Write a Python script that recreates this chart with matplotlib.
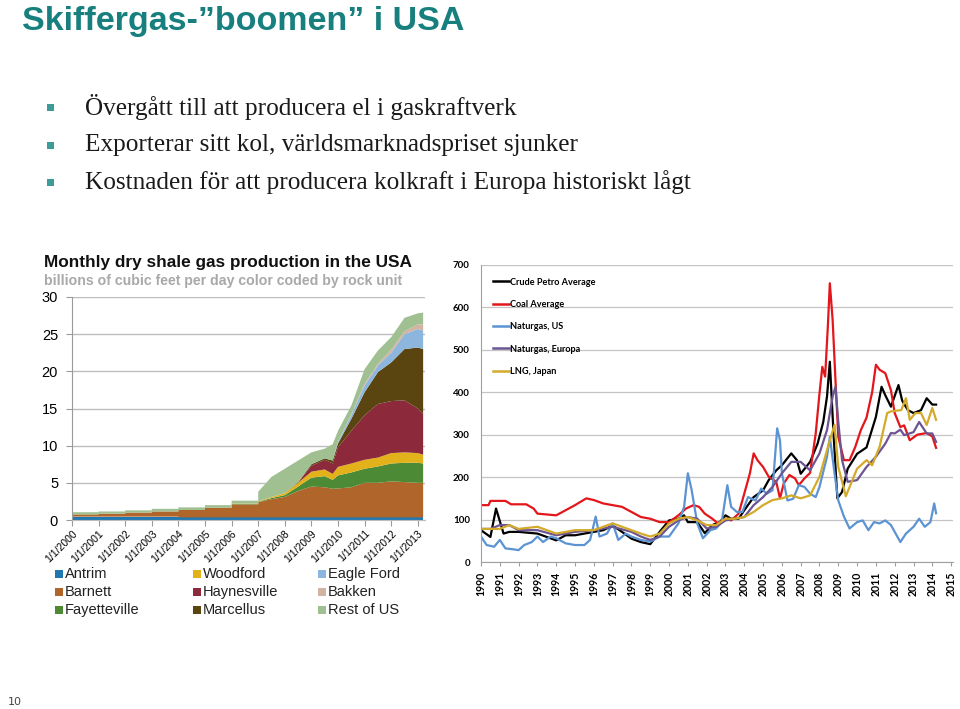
import numpy as np
import matplotlib
matplotlib.use('Agg')
import matplotlib.pyplot as plt
from matplotlib.patches import Rectangle
from matplotlib.lines import Line2D

# ---- left chart: monthly dry shale gas production (bcf/day) ----
# first 7 points are annual steps (2000-2006), then readings from 2007 on
prod_t = [2000, 2001, 2002, 2003, 2004, 2005, 2006,
          2007.0, 2007.5, 2008.0, 2008.5, 2009.0, 2009.5, 2009.8, 2010.0, 2010.5,
          2011.0, 2011.5, 2012.0, 2012.5, 2013.0, 2013.2]
n_annual = 7
antrim = [0.45, 0.45, 0.45, 0.45, 0.35, 0.35, 0.35,
          0.35, 0.35, 0.35, 0.35, 0.35, 0.35, 0.35, 0.35, 0.35, 0.35, 0.35, 0.35, 0.35, 0.35, 0.35]
barnett = [0.30, 0.40, 0.55, 0.70, 1.00, 1.30, 1.75,
           2.05, 2.45, 2.75, 3.55, 4.15, 4.05, 3.85, 3.90, 4.05, 4.65, 4.65, 4.85, 4.75, 4.65, 4.65]
fayetteville = [0, 0, 0, 0, 0, 0, 0.05,
                0.05, 0.15, 0.25, 0.60, 1.20, 1.50, 1.20, 1.75, 2.00, 1.90, 2.20, 2.40, 2.60, 2.70, 2.60]
woodford = [0, 0, 0, 0, 0, 0, 0.05,
            0.05, 0.15, 0.25, 0.50, 0.80, 0.90, 0.80, 1.15, 1.20, 1.20, 1.20, 1.40, 1.40, 1.30, 1.20]
haynesville = [0, 0, 0, 0, 0, 0, 0,
               0, 0, 0, 0.05, 0.80, 1.30, 1.40, 2.65, 4.40, 6.00, 7.20, 7.00, 7.00, 6.00, 5.50]
marcellus = [0, 0, 0, 0, 0, 0, 0,
             0, 0, 0, 0.05, 0.20, 0.20, 0.40, 0.50, 1.60, 3.10, 4.30, 5.20, 6.90, 8.20, 8.70]
eagle_ford = [0, 0, 0, 0, 0, 0, 0,
              0, 0, 0, 0, 0, 0, 0, 0.20, 0.50, 0.90, 0.90, 1.30, 2.00, 2.50, 2.50]
bakken = [0, 0, 0, 0, 0, 0, 0,
          0, 0, 0, 0, 0, 0, 0, 0.05, 0.10, 0.20, 0.20, 0.40, 0.40, 0.60, 0.80]
rest_of_us = [0.30, 0.30, 0.30, 0.35, 0.35, 0.35, 0.40,
              1.30, 2.70, 3.30, 2.90, 1.60, 1.30, 2.20, 1.45, 1.20, 2.00, 1.80, 1.70, 1.80, 1.50, 1.60]

rock_names = ['Antrim', 'Barnett', 'Fayetteville', 'Woodford', 'Haynesville',
              'Marcellus', 'Eagle Ford', 'Bakken', 'Rest of US']
rock_colors = ['#2178b0', '#b0652a', '#4d8a35', '#e3b21a', '#8c2a3c',
               '#5a4511', '#8db6de', '#d3b3a2', '#a0c092']
prod_years = [2000, 2001, 2002, 2003, 2004, 2005, 2006, 2007,
              2008, 2009, 2010, 2011, 2012, 2013]

# ---- right chart: price indices ----
crude_t = [1990.0, 1990.5, 1990.8, 1991.2, 1991.5, 1992.0, 1993.0, 1994.0, 1994.5, 1995.0,
           1996.0, 1996.5, 1997.0, 1997.5, 1998.0, 1998.5, 1999.0, 1999.5, 2000.0, 2000.5,
           2000.8, 2001.0, 2001.5, 2001.9, 2002.3, 2002.7, 2003.0, 2003.3, 2003.7, 2004.0,
           2004.5, 2005.0, 2005.3, 2005.7, 2006.0, 2006.5, 2006.8, 2007.0, 2007.5, 2007.9,
           2008.2, 2008.4, 2008.55, 2008.75, 2008.95, 2009.2, 2009.5, 2010.0, 2010.5, 2011.0,
           2011.3, 2011.5, 2011.8, 2012.2, 2012.4, 2012.7, 2013.0, 2013.4, 2013.7, 2014.0, 2014.2]
crude = [75, 59, 126, 67, 71, 71, 67, 51, 63, 63,
         71, 75, 86, 71, 55, 47, 42, 71, 98, 102,
         110, 94, 94, 68, 87, 94, 110, 102, 102, 122,
         153, 169, 193, 216, 228, 256, 240, 208, 236, 279,
         330, 390, 472, 300, 150, 165, 220, 255, 270, 342,
         413, 393, 366, 417, 380, 358, 351, 358, 386, 371, 371]

coal_t = [1990.0, 1990.4, 1990.5, 1991.3, 1991.6, 1992.4, 1992.8, 1993.0, 1994.0, 1994.5,
          1995.0, 1995.6, 1996.0, 1996.5, 1997.0, 1997.5, 1998.0, 1998.5, 1999.0, 1999.5,
          2000.0, 2000.5, 2000.9, 2001.3, 2001.6, 2001.9, 2002.3, 2002.6, 2003.0, 2003.3,
          2003.7, 2004.0, 2004.3, 2004.5, 2004.7, 2005.0, 2005.3, 2005.7, 2005.9, 2006.1,
          2006.4, 2006.7, 2006.9, 2007.2, 2007.5, 2007.8, 2008.0, 2008.15, 2008.3, 2008.45,
          2008.55, 2008.7, 2008.85, 2009.0, 2009.3, 2009.6, 2009.9, 2010.2, 2010.5, 2010.8,
          2011.0, 2011.2, 2011.5, 2011.8, 2012.0, 2012.3, 2012.5, 2012.8, 2013.2, 2013.7,
          2014.0, 2014.2]
coal = [134, 134, 144, 144, 136, 136, 126, 114, 110, 122,
        134, 150, 146, 138, 134, 130, 118, 106, 102, 94,
        94, 110, 126, 134, 130, 114, 102, 91, 102, 98,
        114, 161, 209, 256, 240, 224, 201, 189, 150, 185,
        205, 197, 181, 197, 210, 303, 397, 460, 437, 560,
        657, 570, 429, 295, 240, 240, 271, 311, 340, 400,
        465, 453, 445, 405, 351, 318, 322, 287, 300, 304,
        296, 269]

gas_us_t = [1990.0, 1990.3, 1990.7, 1991.0, 1991.3, 1991.7, 1992.0, 1992.3, 1992.7, 1993.0,
            1993.3, 1993.7, 1994.0, 1994.5, 1995.0, 1995.5, 1995.8, 1996.1, 1996.3, 1996.7,
            1997.0, 1997.3, 1997.7, 1998.0, 1998.5, 1999.0, 1999.5, 2000.0, 2000.5, 2000.8,
            2001.0, 2001.2, 2001.5, 2001.8, 2002.2, 2002.5, 2002.8, 2003.1, 2003.3, 2003.6,
            2003.9, 2004.2, 2004.6, 2004.9, 2005.2, 2005.5, 2005.75, 2005.9, 2006.0, 2006.3,
            2006.6, 2006.9, 2007.2, 2007.5, 2007.8, 2008.0, 2008.4, 2008.55, 2008.8, 2009.0,
            2009.3, 2009.6, 2010.0, 2010.3, 2010.6, 2010.9, 2011.2, 2011.5, 2011.8, 2012.1,
            2012.3, 2012.6, 2013.0, 2013.3, 2013.6, 2013.9, 2014.1, 2014.2]
gas_us = [60, 40, 36, 52, 32, 30, 28, 40, 47, 60,
          47, 60, 56, 44, 40, 40, 52, 107, 60, 67,
          91, 52, 67, 60, 52, 48, 60, 60, 91, 130,
          209, 170, 91, 56, 75, 79, 94, 181, 130, 118,
          118, 153, 145, 173, 161, 169, 315, 287, 209, 145,
          149, 181, 177, 161, 153, 177, 248, 295, 209, 145,
          107, 79, 94, 98, 75, 94, 91, 98, 87, 63,
          47, 67, 83, 102, 83, 94, 138, 115]

gas_eu_t = [1990.0, 1990.5, 1991.0, 1991.5, 1992.0, 1993.0, 1994.0, 1995.0, 1996.0, 1997.0,
            1998.0, 1998.5, 1999.0, 1999.5, 2000.0, 2000.5, 2001.0, 2001.5, 2002.0, 2002.5,
            2003.0, 2003.5, 2004.0, 2004.5, 2005.0, 2005.5, 2006.0, 2006.5, 2007.0, 2007.5,
            2008.0, 2008.4, 2008.7, 2008.85, 2009.0, 2009.2, 2009.5, 2010.0, 2010.5, 2011.0,
            2011.5, 2011.8, 2012.0, 2012.3, 2012.5, 2013.0, 2013.3, 2013.7, 2014.0, 2014.2]
gas_eu = [78, 78, 87, 87, 75, 75, 63, 71, 75, 83,
          71, 60, 52, 60, 83, 98, 106, 102, 79, 83,
          98, 102, 106, 134, 153, 177, 209, 236, 236, 216,
          256, 311, 390, 413, 330, 240, 189, 193, 224, 248,
          279, 304, 303, 312, 299, 306, 330, 303, 303, 283]

lng_t = [1990.0, 1991.0, 1991.5, 1992.0, 1993.0, 1994.0, 1995.0, 1996.0, 1997.0, 1997.5,
         1998.0, 1998.5, 1999.0, 1999.5, 2000.0, 2000.5, 2001.0, 2001.5, 2002.0, 2002.5,
         2003.0, 2003.5, 2004.0, 2004.5, 2005.0, 2005.5, 2006.0, 2006.5, 2007.0, 2007.5,
         2008.0, 2008.5, 2008.8, 2009.0, 2009.4, 2010.0, 2010.5, 2010.8, 2011.2, 2011.6,
         2011.8, 2012.35, 2012.6, 2012.8, 2013.1, 2013.4, 2013.7, 2014.0, 2014.2]
lng = [78, 78, 87, 78, 83, 67, 75, 75, 91, 83,
       75, 67, 60, 67, 91, 102, 106, 98, 87, 87,
       102, 102, 106, 118, 134, 146, 150, 157, 150, 157,
       201, 279, 323, 224, 155, 220, 240, 228, 272, 351,
       355, 358, 386, 335, 351, 351, 323, 363, 335]

price_years = list(range(1990, 2016))

# ---- figure ----
fig = plt.figure(figsize=(9.6, 7.09), dpi=100)
W, H = 960, 709

def fx(px):
    return px / W

def fy(py):
    return 1 - py / H

fig.text(fx(22), fy(30), 'Skiffergas-\u201dboomen\u201d i USA', fontsize=24.5, fontweight='bold',
         color='#17807e', va='baseline', family='Liberation Sans')

bullets = ['Övergått till att producera el i gaskraftverk',
           'Exporterar sitt kol, världsmarknadspriset sjunker',
           'Kostnaden för att producera kolkraft i Europa historiskt lågt']
for i, b in enumerate(bullets):
    yc = 107 + i * 37.5
    fig.patches.append(Rectangle((fx(47), fy(yc + 4)), 7 / W, 7 / H, transform=fig.transFigure,
                                 facecolor='#3d9c98', edgecolor='none'))
    fig.text(fx(85), fy(yc), b, fontsize=18.2, va='center', color='#1a1a1a',
             family='Liberation Serif')

fig.text(fx(8), fy(702), '10', fontsize=8, color='#444444', va='center')

# ---- left chart ----
fig.text(fx(44), fy(263), 'Monthly dry shale gas production in the USA', fontsize=12.4,
         fontweight='bold', color='#111111', va='center', family='Liberation Sans')
fig.text(fx(44), fy(281), 'billions of cubic feet per day color coded by rock unit', fontsize=10.2,
         fontweight='bold', color='#a9a9a9', va='center', family='Liberation Sans')

axl = fig.add_axes([fx(72), fy(520), 353 / W, 223 / H])
t = np.array(prod_t, dtype=float)
step_x = np.ravel(np.column_stack([t[:n_annual], t[:n_annual] + 1]))
x_all = np.concatenate([step_x, t[n_annual:]])
layers = []
for s in [antrim, barnett, fayetteville, woodford, haynesville, marcellus, eagle_ford, bakken, rest_of_us]:
    s = np.array(s, dtype=float)
    layers.append(np.concatenate([np.repeat(s[:n_annual], 2), s[n_annual:]]))
axl.stackplot(x_all, layers, colors=rock_colors, linewidth=0, zorder=2)
axl.set_xlim(2000, 2013.27)
axl.set_ylim(0, 30)
axl.set_yticks(range(0, 31, 5))
axl.yaxis.grid(True, color='#bdbdbd', linewidth=1)
axl.set_axisbelow(True)
for sp in ['top', 'right']:
    axl.spines[sp].set_visible(False)
axl.spines['left'].set_color('#9a9a9a')
axl.spines['bottom'].set_color('#bdbdbd')
axl.set_xticks(prod_years)
axl.set_xticklabels(['1/1/%d' % y for y in prod_years], rotation=45, ha='right',
                    rotation_mode='anchor', fontsize=7.5, family='Liberation Sans')
axl.tick_params(axis='y', labelsize=10.5, length=4, color='#9a9a9a', pad=6)
axl.tick_params(axis='x', length=4, color='#9a9a9a', pad=2)
for lab in axl.get_yticklabels():
    lab.set_family('Liberation Sans')

for i, (name, col) in enumerate(zip(rock_names, rock_colors)):
    c, r = divmod(i, 3)
    x0 = [55, 193, 318][c]
    yc = 574 + r * 18
    fig.patches.append(Rectangle((fx(x0), fy(yc + 4)), 8 / W, 8 / H, transform=fig.transFigure,
                                 facecolor=col, edgecolor='none'))
    fig.text(fx(x0 + 10), fy(yc), name, fontsize=10.5, va='center', color='#222222',
             family='Liberation Sans')

# ---- right chart ----
axr = fig.add_axes([fx(481), fy(562), 472 / W, 297 / H])
series = [
    (crude_t, crude, '#000000', 'Crude Petro Average'),
    (coal_t, coal, '#e3161b', 'Coal Average'),
    (gas_us_t, gas_us, '#5b93d3', 'Naturgas, US'),
    (gas_eu_t, gas_eu, '#6b5592', 'Naturgas, Europa'),
    (lng_t, lng, '#d4aa2a', 'LNG, Japan'),
]
for xs, ys, col, lab in series:
    axr.plot(xs, ys, color=col, linewidth=1.6, label=lab)
axr.set_xlim(1990, 2015.1)
axr.set_ylim(0, 700)
axr.set_yticks(range(0, 701, 100))
axr.yaxis.grid(True, color='#c4c4c4', linewidth=0.9)
axr.set_axisbelow(True)
for sp in ['top', 'right']:
    axr.spines[sp].set_visible(False)
axr.spines['left'].set_color('#a0a0a0')
axr.spines['bottom'].set_color('#a0a0a0')
axr.set_xticks(price_years)
axr.set_xticklabels([str(y) for y in price_years], rotation=90, fontsize=7.6,
                    fontweight='bold', family='Lato', va='top')
axr.tick_params(axis='x', length=3, color='#a0a0a0', pad=4)
axr.tick_params(axis='y', length=0, pad=8, labelsize=7)
for lab in axr.get_yticklabels():
    lab.set_family('Lato')
    lab.set_fontweight('bold')

handles = [Line2D([], [], color=col, linewidth=1.8) for _, _, col, _ in series]
axr.legend(handles, [s[3] for s in series], loc='upper left', bbox_to_anchor=(0.008, 0.985),
           frameon=False, handlelength=1.7, handletextpad=0.15, labelspacing=1.45,
           prop={'family': 'Lato', 'size': 6.6, 'weight': 'bold'})

fig.savefig('out.png', dpi=100)
